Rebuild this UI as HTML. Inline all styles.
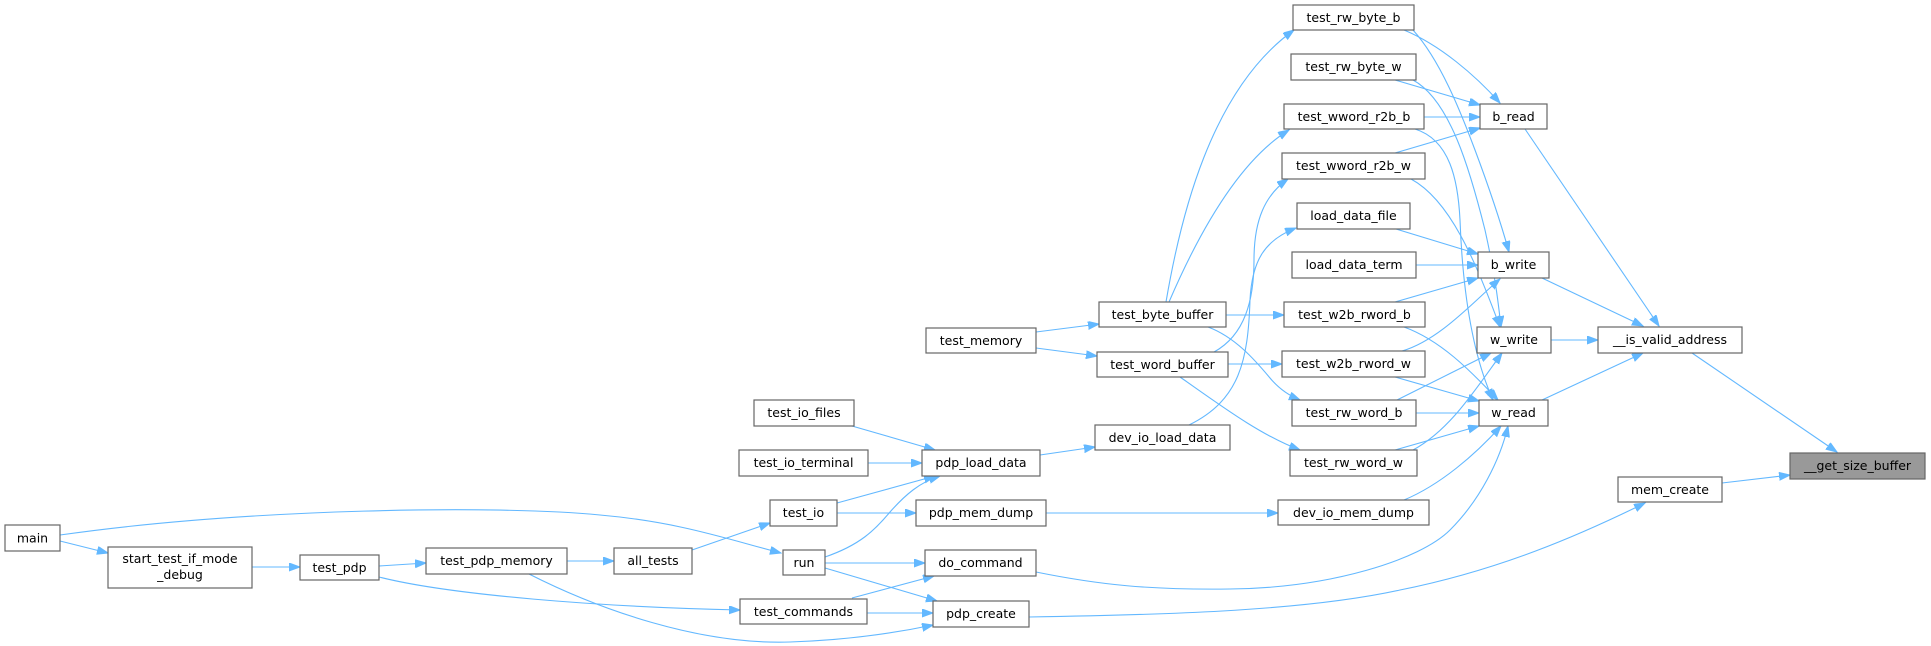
<!DOCTYPE html>
<html><head><meta charset="utf-8"><style>
html,body{margin:0;padding:0;background:#fff;}
svg{display:block;}
text{font-family:"DejaVu Sans","Liberation Sans",sans-serif;font-size:12.5px;fill:#000;}
.n{fill:#fff;stroke:#666;stroke-width:1.2;}
.e{fill:none;stroke:#63b8ff;stroke-width:1.1;marker-end:url(#a);}
</style></head><body>
<svg width="1931" height="646" viewBox="0 0 1931 646" xmlns="http://www.w3.org/2000/svg">
<defs><marker id="a" markerUnits="userSpaceOnUse" markerWidth="12" markerHeight="9" refX="11" refY="4" orient="auto"><path d="M0,0 L11,4 L0,8 z" fill="#63b8ff" stroke="#63b8ff"/></marker></defs>
<g>
<path class="e" d="M60,541 L108,553"/>
<path class="e" d="M60,535 C250,508 500,505 600,515 C680,522 730,540 781,553"/>
<path class="e" d="M252,567 L300,567"/>
<path class="e" d="M379,566 L426,563"/>
<path class="e" d="M379,577 C450,595 600,607 740,610"/>
<path class="e" d="M567,561 L614,561"/>
<path class="e" d="M529,574 C600,610 700,645 790,642 C850,640 900,632 933,625"/>
<path class="e" d="M692,550 L770,523"/>
<path class="e" d="M837,503 L935,476"/>
<path class="e" d="M837,513 L916,513"/>
<path class="e" d="M825,557 C860,545 875,530 890,512 C905,495 920,482 940,476"/>
<path class="e" d="M825,563 L925,563"/>
<path class="e" d="M825,568 L937,601"/>
<path class="e" d="M852,426 L935,450"/>
<path class="e" d="M868,463 L922,463"/>
<path class="e" d="M852,598 L934,576"/>
<path class="e" d="M867,613 L933,613"/>
<path class="e" d="M1040,455 L1095,447"/>
<path class="e" d="M1046,513 L1278,513"/>
<path class="e" d="M1036,332 L1099,324"/>
<path class="e" d="M1036,348 L1097,356"/>
<path class="e" d="M1166,302 C1180,220 1210,90 1294,30"/>
<path class="e" d="M1169,302 C1200,230 1240,160 1289,130"/>
<path class="e" d="M1226,315 L1284,315"/>
<path class="e" d="M1208,327 C1235,337 1255,360 1270,378 C1280,390 1290,396 1300,400"/>
<path class="e" d="M1228,364 L1282,364"/>
<path class="e" d="M1214,352 C1245,335 1254,300 1254,260 C1254,220 1265,195 1288,179"/>
<path class="e" d="M1180,377 C1220,405 1260,435 1300,450"/>
<path class="e" d="M1189,425 C1240,400 1248,360 1250,300 C1252,260 1265,240 1296,228"/>
<path class="e" d="M1404,30 C1440,45 1475,75 1500,103"/>
<path class="e" d="M1413,30 C1440,60 1460,110 1475,150 C1490,190 1500,220 1509,252"/>
<path class="e" d="M1395,80 L1480,105"/>
<path class="e" d="M1413,80 C1450,100 1470,170 1485,230 C1495,275 1498,300 1501,327"/>
<path class="e" d="M1424,117 L1480,117"/>
<path class="e" d="M1415,129 C1450,140 1458,180 1460,220 C1463,300 1475,360 1493,400"/>
<path class="e" d="M1395,153 L1480,128"/>
<path class="e" d="M1411,179 C1450,200 1475,260 1500,327"/>
<path class="e" d="M1396,229 L1478,254"/>
<path class="e" d="M1416,265 L1478,265"/>
<path class="e" d="M1395,302 L1478,278"/>
<path class="e" d="M1404,327 C1440,340 1470,370 1498,400"/>
<path class="e" d="M1402,351 C1440,340 1475,300 1500,279"/>
<path class="e" d="M1395,377 L1479,401"/>
<path class="e" d="M1397,400 L1491,353"/>
<path class="e" d="M1416,413 L1479,413"/>
<path class="e" d="M1395,450 L1479,426"/>
<path class="e" d="M1413,450 C1450,430 1475,390 1502,353"/>
<path class="e" d="M1404,500 C1440,485 1475,455 1501,426"/>
<path class="e" d="M1036,572 C1100,585 1150,590 1230,589 C1330,588 1420,560 1450,530 C1480,500 1500,460 1508,426"/>
<path class="e" d="M1029,617 C1150,615 1300,612 1400,590 C1500,570 1580,535 1645,503"/>
<path class="e" d="M1525,129 L1659,326"/>
<path class="e" d="M1542,278 L1643,326"/>
<path class="e" d="M1551,340 L1598,340"/>
<path class="e" d="M1542,400 L1643,353"/>
<path class="e" d="M1692,353 L1837,452"/>
<path class="e" d="M1722,483 L1790,475"/>
</g>
<g>
<rect class="n" x="5" y="525" width="55" height="26"/><text x="32.5" y="542.5" text-anchor="middle">main</text>
<rect class="n" x="108" y="547" width="144" height="41"/><text x="180" y="563" text-anchor="middle">start_test_if_mode</text><text x="180" y="579" text-anchor="middle">_debug</text>
<rect class="n" x="300" y="555" width="79" height="25"/><text x="339.5" y="572" text-anchor="middle">test_pdp</text>
<rect class="n" x="426" y="548" width="141" height="26"/><text x="496.5" y="565" text-anchor="middle">test_pdp_memory</text>
<rect class="n" x="614" y="548" width="78" height="26"/><text x="653" y="565" text-anchor="middle">all_tests</text>
<rect class="n" x="926" y="328" width="110" height="25"/><text x="981" y="345" text-anchor="middle">test_memory</text>
<rect class="n" x="1099" y="302" width="127" height="25"/><text x="1162.5" y="319" text-anchor="middle">test_byte_buffer</text>
<rect class="n" x="1097" y="352" width="131" height="25"/><text x="1162.5" y="369" text-anchor="middle">test_word_buffer</text>
<rect class="n" x="754" y="400" width="100" height="26"/><text x="804" y="417" text-anchor="middle">test_io_files</text>
<rect class="n" x="739" y="450" width="129" height="26"/><text x="803.5" y="467" text-anchor="middle">test_io_terminal</text>
<rect class="n" x="922" y="450" width="118" height="26"/><text x="981" y="467" text-anchor="middle">pdp_load_data</text>
<rect class="n" x="1095" y="425" width="135" height="25"/><text x="1162.5" y="442" text-anchor="middle">dev_io_load_data</text>
<rect class="n" x="770" y="500" width="67" height="26"/><text x="803.5" y="517" text-anchor="middle">test_io</text>
<rect class="n" x="916" y="500" width="130" height="26"/><text x="981" y="517" text-anchor="middle">pdp_mem_dump</text>
<rect class="n" x="783" y="550" width="42" height="25"/><text x="804" y="567" text-anchor="middle">run</text>
<rect class="n" x="925" y="550" width="111" height="26"/><text x="980.5" y="567" text-anchor="middle">do_command</text>
<rect class="n" x="740" y="599" width="127" height="25"/><text x="803.5" y="616" text-anchor="middle">test_commands</text>
<rect class="n" x="933" y="601" width="96" height="26"/><text x="981" y="618" text-anchor="middle">pdp_create</text>
<rect class="n" x="1293" y="5" width="121" height="25"/><text x="1353.5" y="22" text-anchor="middle">test_rw_byte_b</text>
<rect class="n" x="1291" y="54" width="125" height="26"/><text x="1353.5" y="71" text-anchor="middle">test_rw_byte_w</text>
<rect class="n" x="1284" y="104" width="140" height="25"/><text x="1354" y="121" text-anchor="middle">test_wword_r2b_b</text>
<rect class="n" x="1282" y="153" width="143" height="26"/><text x="1353.5" y="170" text-anchor="middle">test_wword_r2b_w</text>
<rect class="n" x="1297" y="203" width="113" height="26"/><text x="1353.5" y="220" text-anchor="middle">load_data_file</text>
<rect class="n" x="1292" y="252" width="124" height="26"/><text x="1354" y="269" text-anchor="middle">load_data_term</text>
<rect class="n" x="1284" y="302" width="141" height="25"/><text x="1354.5" y="319" text-anchor="middle">test_w2b_rword_b</text>
<rect class="n" x="1282" y="351" width="143" height="26"/><text x="1353.5" y="368" text-anchor="middle">test_w2b_rword_w</text>
<rect class="n" x="1292" y="400" width="124" height="26"/><text x="1354" y="417" text-anchor="middle">test_rw_word_b</text>
<rect class="n" x="1290" y="450" width="127" height="26"/><text x="1353.5" y="467" text-anchor="middle">test_rw_word_w</text>
<rect class="n" x="1278" y="500" width="151" height="25"/><text x="1353.5" y="517" text-anchor="middle">dev_io_mem_dump</text>
<rect class="n" x="1480" y="104" width="67" height="25"/><text x="1513.5" y="121" text-anchor="middle">b_read</text>
<rect class="n" x="1478" y="252" width="71" height="26"/><text x="1513.5" y="269" text-anchor="middle">b_write</text>
<rect class="n" x="1477" y="327" width="74" height="26"/><text x="1514" y="344" text-anchor="middle">w_write</text>
<rect class="n" x="1479" y="400" width="69" height="26"/><text x="1513.5" y="417" text-anchor="middle">w_read</text>
<rect class="n" x="1598" y="327" width="144" height="26"/><text x="1670" y="344" text-anchor="middle">__is_valid_address</text>
<rect class="n" x="1618" y="477" width="104" height="25"/><text x="1670" y="494" text-anchor="middle">mem_create</text>
<rect x="1790" y="453" width="135" height="26" fill="#999" stroke="#666" stroke-width="1.2"/><text x="1857.5" y="470" text-anchor="middle">__get_size_buffer</text>
</g>
</svg>
</body></html>
